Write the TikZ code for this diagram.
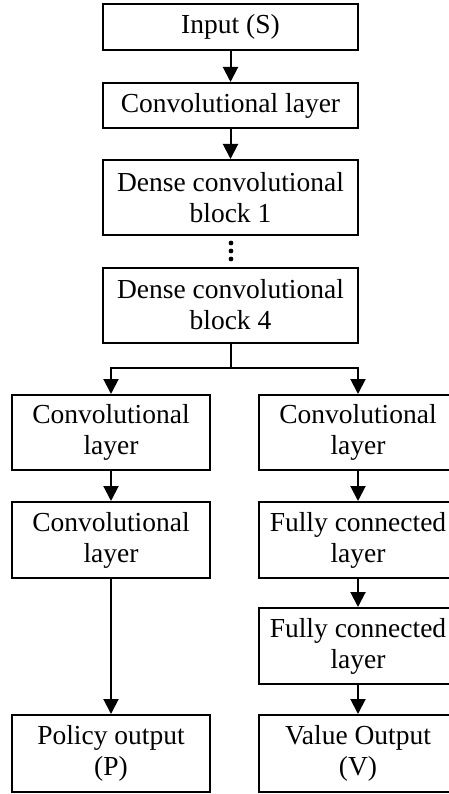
\documentclass[tikz,border=0pt]{standalone}
\usepackage{fontspec}
\setmainfont{Liberation Serif}
\usetikzlibrary{arrows.meta}
\begin{document}
\begin{tikzpicture}[x=1pt,y=-1pt,
  blk/.style={draw,line width=2pt,rectangle,minimum width=255pt,align=center,inner sep=0pt,
    font=\fontsize{27.5}{31}\selectfont},
  sblk/.style={blk,minimum width=198pt},
  arr/.style={line width=2pt,-{Triangle[length=15pt,width=15pt]}}]
\useasboundingbox (0,0) rectangle (448,794);
\node[blk,minimum height=46pt] (in) at (230.5,27) {Input (S)};
\node[blk,minimum height=45pt] (cv) at (230.5,105.5) {Convolutional layer};
\node[blk,minimum height=75pt] (b1) at (230.5,197.5) {Dense convolutional\\block 1};
\node[blk,minimum height=75pt] (b4) at (230.5,305) {Dense convolutional\\block 4};
\node[sblk,minimum height=75pt] (l1) at (111,432.5) {Convolutional\\layer};
\node[sblk,minimum height=76pt] (l2) at (111,540) {Convolutional\\layer};
\node[sblk,minimum height=77pt] (p) at (111,753.5) {Policy output\\(P)};
\node[sblk,minimum height=75pt] (r1) at (358,432.5) {Convolutional\\layer};
\node[sblk,minimum height=76pt] (r2) at (358,540) {Fully connected\\layer};
\node[sblk,minimum height=76pt] (r3) at (358,646) {Fully connected\\layer};
\node[sblk,minimum height=77pt] (v) at (358,753.5) {Value Output\\(V)};
\coordinate (split) at (230.5,368);
\fill (231,243) circle (2.4pt) (231,251) circle (2.4pt) (231,259) circle (2.4pt);
\draw[arr] (in) -- (cv);
\draw[arr] (cv) -- (b1);
\draw[line width=2pt] (b4.south) -- (split);
\draw[arr] (split) -| (l1.north);
\draw[arr] (split) -| (r1.north);
\draw[arr] (l1) -- (l2);
\draw[arr] (l2) -- (p);
\draw[arr] (r1) -- (r2);
\draw[arr] (r2) -- (r3);
\draw[arr] (r3) -- (v);
\end{tikzpicture}
\end{document}
